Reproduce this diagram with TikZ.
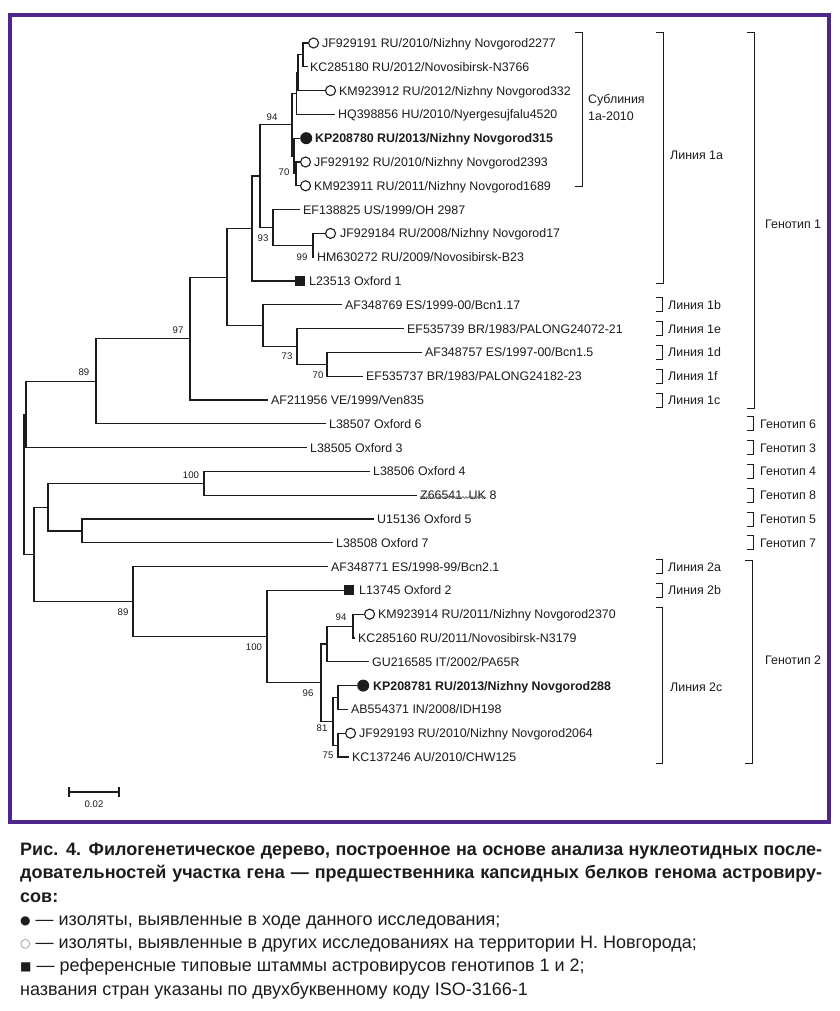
\documentclass[tikz,border=0pt]{standalone}
\usepackage{fontspec}
\setmainfont{Liberation Sans}
\newfontfamily\symfont{DejaVu Sans}
\usetikzlibrary{decorations.pathmorphing}
\definecolor{frameviolet}{RGB}{78,38,140}
\definecolor{ink}{RGB}{28,28,28}
\newcommand\leaffont{\fontsize{12.4}{14}\selectfont}
\newcommand\bootfont{\fontsize{9.6}{11}\selectfont}
\newcommand\capfont{\fontsize{18}{23}\selectfont}
\newcommand\capsym[2][ink]{\raisebox{1.2pt}{\symfont\fontsize{12}{12}\selectfont\color{#1}#2}}
\begin{document}
\begin{tikzpicture}[x=1pt,y=-1pt,
  br/.style={line width=1.2pt, draw=ink},
  grp/.style={line width=1pt, draw=ink},
  lt/.style={anchor=west, inner sep=0pt, text height=8.9pt, text depth=0pt, font=\leaffont, text=ink},
  gt/.style={anchor=west, inner sep=0pt, text height=8.9pt, text depth=0pt, font=\leaffont, text=ink},
  bs/.style={inner sep=0pt, text height=6.9pt, text depth=0pt, font=\bootfont, text=ink},
  opc/.style={circle, draw=ink, line width=1.1pt, minimum size=10pt, inner sep=0pt, anchor=west},
  fic/.style={circle, fill=ink, minimum size=12pt, inner sep=0pt, anchor=west},
  fsq/.style={rectangle, fill=ink, minimum size=10pt, inner sep=0pt, anchor=west},
  cl/.style={anchor=base west, inner sep=0pt, font=\capfont, text=ink}
]
\useasboundingbox (0,0) rectangle (839,1011);
\fill[white] (0,0) rectangle (839,1011);
\draw[frameviolet, line width=4pt] (9.5,15) rectangle (829,822);

% ---------- leaf ends ----------
\coordinate (jf191) at (308,43);
\coordinate (kc180) at (308,66.8);
\coordinate (km912) at (325,90.6);
\coordinate (hq856) at (335,114.4);
\coordinate (kp780) at (300,138.2);
\coordinate (jf192) at (300,162);
\coordinate (km911) at (300,185.8);
\coordinate (ef825) at (300,209.6);
\coordinate (jf184) at (325,233.4);
\coordinate (hm272) at (314,257.2);
\coordinate (l23513) at (295,281);
\coordinate (af769) at (342,304.8);
\coordinate (ef739) at (404,328.6);
\coordinate (af757) at (422,352.4);
\coordinate (ef737) at (363,376.2);
\coordinate (af956) at (268,400);
\coordinate (l38507) at (326,423.8);
\coordinate (l38505) at (307,447.6);
\coordinate (l38506) at (370,471.4);
\coordinate (z66541) at (417,495.2);
\coordinate (u15136) at (374,519);
\coordinate (l38508) at (333,542.8);
\coordinate (af771) at (328,566.6);
\coordinate (l13745) at (344,590.4);
\coordinate (km914) at (364,614.2);
\coordinate (kc160) at (355,638);
\coordinate (gu585) at (369,661.8);
\coordinate (kp781) at (357,685.6);
\coordinate (ab371) at (348,709.4);
\coordinate (jf193) at (345,733.2);
\coordinate (kc246) at (349,757);

% ---------- internal nodes ----------
\coordinate (nA) at (303,54.9);
\coordinate (nBp) at (298,72.75);
\coordinate (nB) at (296.5,93.6);
\coordinate (nCi) at (296,173.9);
\coordinate (nC) at (294,156.05);
\coordinate (n94) at (292,124.8);
\coordinate (nD) at (313,245.3);
\coordinate (n93) at (273,227.45);
\coordinate (nE) at (260,176.1);
\coordinate (nF) at (252,228.6);
\coordinate (nJ) at (327,364.3);
\coordinate (nI) at (297,346.45);
\coordinate (nH) at (263,325.6);
\coordinate (nG) at (227,277.1);
\coordinate (nK) at (190,338.55);
\coordinate (nL) at (96,381.2);
\coordinate (nP) at (26,414.4);
\coordinate (nR) at (204,483.3);
\coordinate (nS) at (82,530.9);
\coordinate (nQ) at (48,507.1);
\coordinate (nX) at (353,626.1);
\coordinate (nW) at (327,643.95);
\coordinate (nZ) at (338,697.5);
\coordinate (nAA) at (338,745.1);
\coordinate (nY) at (333,721.3);
\coordinate (nV) at (321,682.6);
\coordinate (nU) at (267,636.5);
\coordinate (nT) at (133,601.55);
\coordinate (nN) at (34,554.3);
\coordinate (nRoot) at (24,484.35);

% ---------- branches ----------
\draw[br] (nA) |- (jf191); \draw[br] (nA) |- (kc180);
\draw[br] (nBp) |- (nA); \draw[br] (nBp) |- (km912);
\draw[br] (nB) |- (nBp); \draw[br] (nB) |- (hq856);
\draw[br] (nCi) |- (jf192); \draw[br] (nCi) |- (km911);
\draw[br] (nC) |- (kp780); \draw[br] (nC) |- (nCi);
\draw[br] (n94) |- (nB); \draw[br] (n94) |- (nC);
\draw[br] (nD) |- (jf184); \draw[br] (nD) |- (hm272);
\draw[br] (n93) |- (ef825); \draw[br] (n93) |- (nD);
\draw[br] (nE) |- (n94); \draw[br] (nE) |- (n93);
\draw[br] (nF) |- (nE); \draw[br] (nF) |- (l23513);
\draw[br] (nJ) |- (af757); \draw[br] (nJ) |- (ef737);
\draw[br] (nI) |- (ef739); \draw[br] (nI) |- (nJ);
\draw[br] (nH) |- (af769); \draw[br] (nH) |- (nI);
\draw[br] (nG) |- (nF); \draw[br] (nG) |- (nH);
\draw[br] (nK) |- (nG); \draw[br] (nK) |- (af956);
\draw[br] (nL) |- (nK); \draw[br] (nL) |- (l38507);
\draw[br] (nP) |- (nL); \draw[br] (nP) |- (l38505);
\draw[br] (nR) |- (l38506); \draw[br] (nR) |- (z66541);
\draw[br] (nS) |- (u15136); \draw[br] (nS) |- (l38508);
\draw[br] (nQ) |- (nR); \draw[br] (nQ) |- (nS);
\draw[br] (nX) |- (km914); \draw[br] (nX) |- (kc160);
\draw[br] (nW) |- (nX); \draw[br] (nW) |- (gu585);
\draw[br] (nZ) |- (kp781); \draw[br] (nZ) |- (ab371);
\draw[br] (nAA) |- (jf193); \draw[br] (nAA) |- (kc246);
\draw[br] (nY) |- (nZ); \draw[br] (nY) |- (nAA);
\draw[br] (nV) |- (nW); \draw[br] (nV) |- (nY);
\draw[br] (nU) |- (l13745); \draw[br] (nU) |- (nV);
\draw[br] (nT) |- (af771); \draw[br] (nT) |- (nU);
\draw[br] (nN) |- (nQ); \draw[br] (nN) |- (nT);
\draw[br] (nRoot) |- (nP); \draw[br] (nRoot) |- (nN);

% ---------- symbols ----------
\node[opc] (s-jf191) at (jf191) {};
\node[opc] (s-km912) at (km912) {};
\node[fic] (s-kp780) at (kp780) {};
\node[opc] (s-jf192) at (jf192) {};
\node[opc] (s-km911) at (km911) {};
\node[opc] (s-jf184) at (jf184) {};
\node[fsq] (s-l23513) at (l23513) {};
\node[fsq] (s-l13745) at (l13745) {};
\node[opc] (s-km914) at (km914) {};
\node[fic] (s-kp781) at (kp781) {};
\node[opc] (s-jf193) at (jf193) {};

% ---------- leaf labels ----------
\node[lt] (t-jf191) at (322,43) {JF929191 RU/2010/Nizhny Novgorod2277};
\node[lt] (t-kc180) at (310,66.8) {KC285180 RU/2012/Novosibirsk-N3766};
\node[lt] (t-km912) at (339,90.6) {KM923912 RU/2012/Nizhny Novgorod332};
\node[lt] (t-hq856) at (338,114.4) {HQ398856 HU/2010/Nyergesujfalu4520};
\node[lt] (t-kp780) at (315,138.2) {\bfseries KP208780 RU/2013/Nizhny Novgorod315};
\node[lt] (t-jf192) at (314,162) {JF929192 RU/2010/Nizhny Novgorod2393};
\node[lt] (t-km911) at (314,185.8) {KM923911 RU/2011/Nizhny Novgorod1689};
\node[lt] (t-ef825) at (303,209.6) {EF138825 US/1999/OH 2987};
\node[lt] (t-jf184) at (340,233.4) {JF929184 RU/2008/Nizhny Novgorod17};
\node[lt] (t-hm272) at (317,257.2) {HM630272 RU/2009/Novosibirsk-B23};
\node[lt] (t-l23513) at (309,281) {L23513 Oxford 1};
\node[lt] (t-af769) at (345,304.8) {AF348769 ES/1999-00/Bcn1.17};
\node[lt] (t-ef739) at (407,328.6) {EF535739 BR/1983/PALONG24072-21};
\node[lt] (t-af757) at (425,352.4) {AF348757 ES/1997-00/Bcn1.5};
\node[lt] (t-ef737) at (366,376.2) {EF535737 BR/1983/PALONG24182-23};
\node[lt] (t-af956) at (271,400) {AF211956 VE/1999/Ven835};
\node[lt] (t-l38507) at (329,423.8) {L38507 Oxford 6};
\node[lt] (t-l38505) at (310,447.6) {L38505 Oxford 3};
\node[lt] (t-l38506) at (373,471.4) {L38506 Oxford 4};
\node[lt] (t-z1) at (420,495.2) {Z66541};
\node[lt] (t-z2) at ([xshift=6pt]t-z1.east) {UK};
\node[lt] (t-z3) at ([xshift=3.4pt]t-z2.east) {8};
\draw[gray!85!black, line width=0.7pt, decorate, decoration={snake, amplitude=0.9pt, segment length=3pt}]
  ([yshift=2.4pt]t-z1.south west) -- ([yshift=2.4pt]t-z2.south east);
\node[lt] (t-u15136) at (377,519) {U15136 Oxford 5};
\node[lt] (t-l38508) at (336,542.8) {L38508 Oxford 7};
\node[lt] (t-af771) at (331,566.6) {AF348771 ES/1998-99/Bcn2.1};
\node[lt] (t-l13745) at (359,590.4) {L13745 Oxford 2};
\node[lt] (t-km914) at (378,614.2) {KM923914 RU/2011/Nizhny Novgorod2370};
\node[lt] (t-kc160) at (358,638) {KC285160 RU/2011/Novosibirsk-N3179};
\node[lt] (t-gu585) at (372,661.8) {GU216585 IT/2002/PA65R};
\node[lt] (t-kp781) at (373,685.6) {\bfseries KP208781 RU/2013/Nizhny Novgorod288};
\node[lt] (t-ab371) at (351,709.4) {AB554371 IN/2008/IDH198};
\node[lt] (t-jf193) at (359,733.2) {JF929193 RU/2010/Nizhny Novgorod2064};
\node[lt] (t-kc246) at (352,757) {KC137246 AU/2010/CHW125};

% ---------- bootstrap values ----------
\node[bs] (b1) at (272,117) {94};
\node[bs] (b2) at (284,172) {70};
\node[bs] (b3) at (263,238) {93};
\node[bs] (b4) at (302,257) {99};
\node[bs] (b5) at (178,330) {97};
\node[bs] (b6) at (84,372) {89};
\node[bs] (b7) at (287,356) {73};
\node[bs] (b8) at (318,375) {70};
\node[bs] (b9) at (191,475) {100};
\node[bs] (b10) at (123,612) {89};
\node[bs] (b11) at (254,647) {100};
\node[bs] (b12) at (308,693) {96};
\node[bs] (b13) at (341,617) {94};
\node[bs] (b14) at (322,728) {81};
\node[bs] (b15) at (328,755) {75};

% ---------- group brackets ----------
\draw[grp] (575,33) -- (582,33) -- (582,187) -- (575,187);
\node[gt] (g-sub1) at (588,99) {Сублиния};
\node[gt] (g-sub2) at (588,116) {1a-2010};
\draw[grp] (656,33) -- (663,33) -- (663,283) -- (656,283);
\node[gt] (g-1a) at (670,155) {Линия 1a};
\draw[grp] (747,33) -- (754,33) -- (754,408) -- (747,408);
\node[gt] (g-g1) at (765,224) {Генотип 1};
\foreach \yy/\lab in {304.8/1b, 328.6/1e, 352.4/1d, 376.2/1f, 400/1c, 566.6/2a, 590.4/2b}{
  \draw[grp] (656,\yy-7) -- (662,\yy-7) -- (662,\yy+7) -- (656,\yy+7);
  \node[gt] at (668,\yy) {Линия \lab};
}
\foreach \yy/\lab in {423.8/6, 447.6/3, 471.4/4, 495.2/8, 519/5, 542.8/7}{
  \draw[grp] (747,\yy-7) -- (753,\yy-7) -- (753,\yy+7) -- (747,\yy+7);
  \node[gt] at (760,\yy) {Генотип \lab};
}
\draw[grp] (656,607) -- (662,607) -- (662,763) -- (656,763);
\node[gt] (g-2c) at (670,687) {Линия 2c};
\draw[grp] (745,560) -- (752,560) -- (752,763) -- (745,763);
\node[gt] (g-g2) at (765,660) {Генотип 2};

% ---------- scale bar ----------
\coordinate (sb1) at (69,792);
\coordinate (sb2) at (119,792);
\draw[br] (sb1) -- (sb2);
\draw[br] ([yshift=-5pt]sb1) -- ([yshift=5pt]sb1);
\draw[br] ([yshift=-5pt]sb2) -- ([yshift=5pt]sb2);
\node[bs] (sblab) at (94,804) {0.02};

% ---------- caption ----------
\node[cl, font=\capfont\bfseries] (c1) at (20,855.5) {\makebox[802pt][s]{Рис. 4. Филогенетическое дерево, построенное на основе анализа нуклеотидных после-}};
\node[cl, font=\capfont\bfseries] (c2) at (20,878.8) {\makebox[802pt][s]{довательностей участка гена — предшественника капсидных белков генома астровиру-}};
\node[cl, font=\capfont\bfseries] (c3) at (20,902) {сов:};
\node[cl] (c4) at (20,925.3) {\capsym{●} — изоляты, выявленные в ходе данного исследования;};
\node[cl] (c5) at (20,948.5) {\capsym[gray]{○} — изоляты, выявленные в других исследованиях на территории Н. Новгорода;};
\node[cl] (c6) at (20,971.8) {\capsym{■} — референсные типовые штаммы астровирусов генотипов 1 и 2;};
\node[cl] (c7) at (20,995) {названия стран указаны по двухбуквенному коду ISO-3166-1};
\end{tikzpicture}
\end{document}
